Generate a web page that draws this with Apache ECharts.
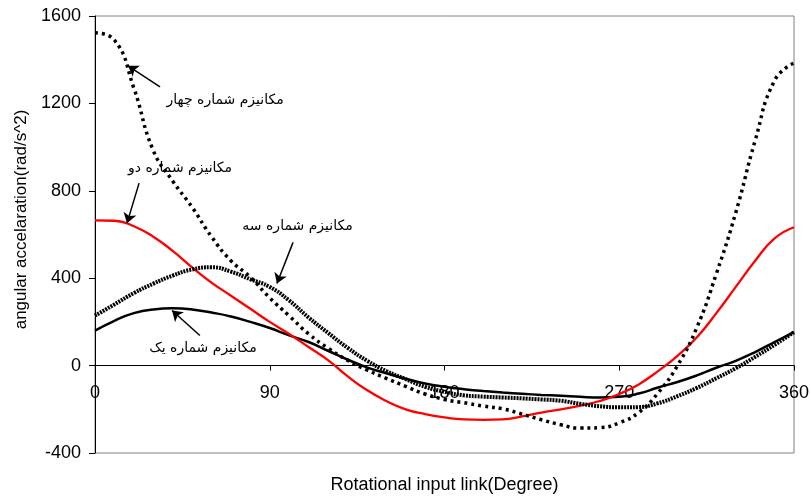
<!DOCTYPE html>
<html>
<head>
<meta charset="utf-8">
<script src="https://cdn.jsdelivr.net/npm/echarts@6/dist/echarts.min.js"></script>
<style>html,body{margin:0;padding:0;background:#fff}#c{width:811px;height:502px}</style>
</head>
<body>
<div id="c"></div>
<script>
const degrees = [0,10,20,30,40,50,60,70,80,90,100,110,120,130,140,150,160,170,180,190,200,210,220,230,240,250,260,270,280,290,300,310,320,330,340,350,360];
const mech1 = [160,205,240,257,262,257,243,225,200,172,138,108,68,28,-8,-35,-60,-82,-97,-108,-116,-123,-129,-134,-138,-143,-146,-143,-128,-100,-75,-45,-10,22,62,108,153];
const mech2 = [665,663,638,590,525,450,380,320,260,200,145,85,25,-48,-112,-162,-200,-222,-237,-246,-248,-246,-232,-215,-200,-183,-162,-130,-86,-25,45,130,240,360,480,582,633];
const mech3 = [229,280,332,375,412,440,450,430,395,360,298,220,150,82,23,-25,-62,-97,-120,-136,-142,-146,-150,-155,-161,-175,-186,-191,-190,-172,-140,-102,-58,-12,40,95,153];
const mech4 = [1523,1490,1270,985,845,725,590,480,405,310,228,145,80,25,-20,-58,-95,-130,-155,-170,-185,-198,-222,-248,-271,-286,-284,-262,-215,-125,0,175,420,700,1030,1305,1385];
const xTicks = [0,90,180,270,360];
const yTicks = [-400,0,400,800,1200,1600];
const names = ['مکانیزم شماره یک','مکانیزم شماره دو','مکانیزم شماره سه','مکانیزم شماره چهار'];

const pairs = v => degrees.map((d,i)=>[d,v[i]]);

// annotation placement (data coordinates): text centre, arrow tail, arrow tip
const annText = [[55.6,78],[43.8,904],[104.3,638],[67,1216]];
const annTail = [[54,138],[22.7,835],[102,564],[33.5,1276]];
const annTip  = [[39.7,252],[16.5,652],[93.7,376],[17,1372]];

function annot(i){
  return {
    markLine:{silent:true,animation:false,symbol:['none','arrow'],symbolSize:[1,10],
      lineStyle:{color:'#000',width:1.5,type:'solid'},label:{show:false},
      data:[[{coord:annTail[i],symbol:'none'},{coord:annTip[i],symbol:'arrow',symbolSize:10}]]},
    markPoint:{silent:true,animation:false,symbol:'rect',symbolSize:1,itemStyle:{color:'rgba(0,0,0,0)'},
      label:{show:true,position:'inside',formatter:names[i],color:'#000',fontSize:14,fontFamily:'DejaVu Sans'},
      data:[{coord:annText[i]}]}
  };
}

const chart = echarts.init(document.getElementById('c'),null,{renderer:'canvas'});
const font = 'Liberation Sans, Arial, sans-serif';
chart.setOption({
  animation:false,
  backgroundColor:'#fff',
  grid:{left:95,right:17,top:16,bottom:49,show:true,borderColor:'#808080',borderWidth:1,
    containLabel:false,outerBoundsMode:'none'},
  xAxis:{type:'value',min:xTicks[0],max:xTicks[xTicks.length-1],interval:90,
    axisLine:{onZero:true,lineStyle:{color:'#000',width:1}},
    axisTick:{show:true,length:5,lineStyle:{color:'#000'}},
    axisLabel:{color:'#000',fontSize:18,fontFamily:font,margin:-69,formatter:v=>String(v)},
    splitLine:{show:false},
    name:'Rotational input link(Degree)',nameLocation:'middle',nameGap:23,
    nameTextStyle:{color:'#000',fontSize:18,fontFamily:font}},
  yAxis:{type:'value',min:yTicks[0],max:yTicks[yTicks.length-1],interval:400,
    axisLine:{show:true,lineStyle:{color:'#000',width:1}},
    axisTick:{show:true,length:6,lineStyle:{color:'#000'}},
    axisLabel:{color:'#000',fontSize:18,fontFamily:font,margin:14,formatter:v=>String(v)},
    splitLine:{show:false},
    name:'angular accelaration(rad/s^2)',nameLocation:'middle',nameGap:64,
    nameTextStyle:{color:'#000',fontSize:17,fontFamily:font,padding:[0,0,0,30]}},
  series:[
    Object.assign({type:'line',name:names[0],data:pairs(mech1),smooth:true,showSymbol:false,
      lineStyle:{color:'#000',width:2.5}},annot(0)),
    Object.assign({type:'line',name:names[1],data:pairs(mech2),smooth:true,showSymbol:false,
      lineStyle:{color:'#ff0000',width:2.3}},annot(1)),
    Object.assign({type:'line',name:names[2],data:pairs(mech3),smooth:true,showSymbol:false,
      lineStyle:{color:'#000',width:4,type:[2,1]}},annot(2)),
    Object.assign({type:'line',name:names[3],data:pairs(mech4),smooth:true,showSymbol:false,
      lineStyle:{color:'#000',width:3.5,type:[3,4],cap:'butt'}},annot(3))
  ]
});
</script>
</body>
</html>
